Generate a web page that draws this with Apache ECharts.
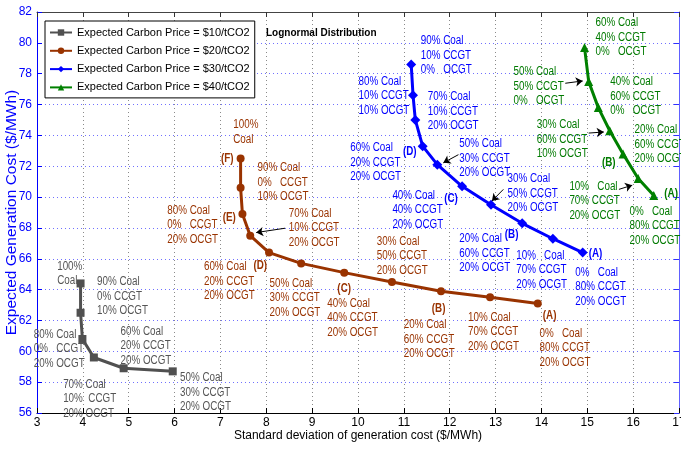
<!DOCTYPE html>
<html>
<head>
<meta charset="utf-8">
<script src="https://cdn.jsdelivr.net/npm/echarts@6/dist/echarts.min.js"></script>
<style>
html,body{margin:0;padding:0;background:#fff;}
#c{width:681px;height:449px;}
</style>
</head>
<body>
<div id="c"></div>
<script>
// ---------- data ----------
const seriesNames = [
  'Expected Carbon Price = $10/tCO2',
  'Expected Carbon Price = $20/tCO2',
  'Expected Carbon Price = $30/tCO2',
  'Expected Carbon Price = $40/tCO2'
];
const sd10 = [3.95, 3.95, 3.99, 4.24, 4.89, 5.96];
const cost10 = [64.4, 62.5, 60.8, 59.6, 58.9, 58.7];
const sd20 = [7.44, 7.44, 7.48, 7.65, 8.06, 8.76, 9.70, 10.74, 11.81, 12.88, 13.92];
const cost20 = [72.5, 70.6, 68.9, 67.5, 66.4, 65.7, 65.1, 64.5, 63.9, 63.5, 63.1];
const sd30 = [11.16, 11.2, 11.25, 11.41, 11.73, 12.27, 12.90, 13.58, 14.25, 14.90];
const cost30 = [78.6, 76.6, 75.0, 73.3, 72.1, 70.7, 69.5, 68.3, 67.3, 66.4];
const sd40 = [14.94, 15.03, 15.24, 15.49, 15.78, 16.11, 16.45];
const cost40 = [79.7, 77.5, 75.8, 74.3, 72.8, 71.2, 70.1];

// annotation texts
const text10 = ['100%\nCoal', '90% Coal\n0% CCGT\n10% OCGT', '80% Coal\n0%   CCGT\n20% OCGT',
  '70% Coal\n10%  CCGT\n20% OCGT', '60% Coal\n20% CCGT\n20% OCGT', '50% Coal\n30% CCGT\n20% OCGT'];
const text20 = ['100%\nCoal', '(F)', '90% Coal\n0%   CCGT\n10% OCGT', '80% Coal\n0%   CCGT\n20% OCGT', '(E)',
  '70% Coal\n10% CCGT\n20% OCGT', '60% Coal\n20% CCGT\n20% OCGT', '(D)', '50% Coal\n30% CCGT\n20% OCGT',
  '(C)', '40% Coal\n40% CCGT\n20% OCGT', '30% Coal\n50% CCGT\n20% OCGT', '(B)',
  '20% Coal\n60% CCGT\n20% OCGT', '10% Coal\n70% CCGT\n20% OCGT', '(A)', '0%   Coal\n80% CCGT\n20% OCGT'];
const text30 = ['90% Coal\n10% CCGT\n0%   OCGT', '80% Coal\n10% CCGT\n10% OCGT', '70% Coal\n10% CCGT\n20% OCGT',
  '60% Coal\n20% CCGT\n20% OCGT', '(D)', '50% Coal\n30% CCGT\n20% OCGT', '40% Coal\n40% CCGT\n20% OCGT', '(C)',
  '30% Coal\n50% CCGT\n20% OCGT', '20% Coal\n60% CCGT\n20% OCGT', '(B)', '10%   Coal\n70% CCGT\n20% OCGT',
  '(A)', '0%   Coal\n80% CCGT\n20% OCGT'];
const text40 = ['60% Coal\n40% CCGT\n0%   OCGT', '50% Coal\n50% CCGT\n0%   OCGT', '40% Coal\n60% CCGT\n0%   OCGT',
  '30% Coal\n60% CCGT\n10% OCGT', '20% Coal\n60% CCGT\n20% OCGT', '(B)', '10%   Coal\n70% CCGT\n20% OCGT',
  '(A)', '0%   Coal\n80% CCGT\n20% OCGT'];

// annotation anchors (top-left of text block, in data units)
const pos10 = [[3.44, 65.98], [4.31, 64.97], [2.93, 61.55], [3.57, 58.32], [4.82, 61.77], [6.12, 58.75]];
const pos20 = [[7.28, 75.14], [7.01, 72.99], [7.81, 72.35], [5.84, 69.61], [7.05, 69.12], [8.49, 69.4],
  [6.64, 65.94], [7.72, 66.05], [8.07, 64.88], [9.55, 64.5], [9.33, 63.57], [10.41, 67.61], [11.61, 63.25],
  [11.0, 62.17], [12.4, 62.67], [14.03, 62.77], [13.96, 61.64]];
const pos30 = [[11.37, 80.58], [10.01, 77.98], [11.52, 76.97], [9.83, 73.64], [10.98, 73.42], [12.21, 73.92],
  [10.75, 70.58], [11.88, 70.35], [13.26, 71.66], [12.21, 67.77], [13.2, 68.05], [13.45, 66.69], [15.03, 66.82],
  [14.74, 65.57]];
const pos40 = [[15.18, 81.77], [13.39, 78.58], [15.5, 77.94], [13.9, 75.14], [16.03, 74.82], [15.32, 72.71],
  [14.61, 71.16], [16.68, 70.67], [15.92, 69.55]];

// arrows [from, to]
const arrows = [
  [[8.41, 67.98], [7.78, 67.70]],
  [[12.19, 72.75], [11.86, 72.22]],
  [[13.17, 70.5], [12.92, 69.74]],
  [[14.52, 77.38], [14.90, 77.53]],
  [[15.03, 74.15], [15.36, 74.22]],
  [[15.69, 70.5], [15.98, 70.77]]
];

// ---------- styling ----------
const REG = "'Liberation Sans',Arial,Helvetica,sans-serif";
const colors = ['#505050', '#993300', '#0000ff', '#008000'];
const labelColors = ['#555555', '#993300', '#0000ff', '#007a00'];
const symbols = ['rect', 'circle', 'diamond', 'triangle'];
const symSizes = [8, 8, 10, 9];

function zip(a, b) { return a.map((v, i) => [v, b[i]]); }

const lineData = [zip(sd10, cost10), zip(sd20, cost20), zip(sd30, cost30), zip(sd40, cost40)];
const texts = [text10, text20, text30, text40];
const poses = [pos10, pos20, pos30, pos40];

const series = [];
lineData.forEach((d, i) => {
  series.push({
    name: seriesNames[i], type: 'line', data: d,
    symbol: symbols[i], symbolSize: symSizes[i], showSymbol: true,
    lineStyle: { color: colors[i], width: 3 },
    itemStyle: { color: colors[i] },
    z: 3
  });
});
texts.forEach((tx, i) => {
  series.push({
    type: 'custom', silent: true, clip: false, z: 5,
    data: poses[i],
    renderItem: function (params, api) {
      const p = api.coord([api.value(0), api.value(1)]);
      const t = tx[params.dataIndex];
      const bold = t.charAt(0) === '(';
      return {
        type: 'text', x: p[0], y: p[1], scaleX: 0.82, scaleY: 1,
        style: {
          text: t, x: 0, y: 0, align: 'left', verticalAlign: 'top',
          fill: labelColors[i], fontFamily: REG, fontSize: 12, lineHeight: 14.5,
          fontWeight: bold ? 'bold' : 'normal'
        }
      };
    }
  });
});
series.push({
  type: 'lines', coordinateSystem: 'cartesian2d', silent: true, z: 6,
  symbol: ['none', 'arrow'], symbolSize: 7,
  lineStyle: { color: '#000', width: 1, opacity: 1 },
  data: arrows.map(a => ({ coords: a }))
});

const chart = echarts.init(document.getElementById('c'), null, { renderer: 'canvas' });
chart.setOption({
  animation: false,
  backgroundColor: '#fff',
  title: {
    text: 'Lognormal Distribution', left: 266, top: 28, padding: 0,
    textStyle: { fontFamily: REG, fontSize: 10, fontWeight: 'bold', color: '#000' }
  },
  legend: {
    data: seriesNames, orient: 'vertical', left: 45, top: 21,
    backgroundColor: '#fff', borderColor: '#000', borderWidth: 1,
    padding: [6, 5, 5, 4], itemGap: 7.3, itemWidth: 22, itemHeight: 8,
    textStyle: { fontFamily: REG, fontSize: 11, color: '#000' }
  },
  grid: { left: 37, right: 2, top: 12, bottom: 36, containLabel: false, outerBoundsMode: 'none' },
  xAxis: [{
    type: 'value', min: 3, max: 17, interval: 1,
    name: 'Standard deviation of generation cost ($/MWh)', nameLocation: 'middle', nameGap: 17,
    nameMoveOverlap: false,
    nameTextStyle: { fontFamily: REG, fontSize: 12, color: '#000' },
    axisLine: { show: true, onZero: false, lineStyle: { color: '#000', width: 1 } },
    axisTick: { show: true, inside: true, length: 5, lineStyle: { color: '#000' } },
    axisLabel: { color: '#000', fontFamily: REG, fontSize: 12, margin: 4 },
    splitLine: { show: true, lineStyle: { color: '#8a8a8a', type: [1, 3], width: 1 } }
  }, {
    type: 'value', min: 3, max: 17, interval: 1, position: 'top',
    axisLine: { show: true, onZero: false, lineStyle: { color: '#444', width: 1 } },
    axisTick: { show: true, inside: true, length: 5, lineStyle: { color: '#333' } },
    axisLabel: { show: false }, splitLine: { show: false }
  }],
  yAxis: [{
    type: 'value', min: 56, max: 82, interval: 2,
    name: 'Expected Generation Cost ($/MWh)', nameLocation: 'middle', nameGap: 17, nameRotate: 90,
    nameMoveOverlap: false,
    nameTextStyle: { fontFamily: REG, fontSize: 15.5, color: '#0000ff' },
    axisLine: { show: true, onZero: false, lineStyle: { color: '#0000ff', width: 1 } },
    axisTick: { show: true, inside: true, length: 5, lineStyle: { color: '#0000ff' } },
    axisLabel: { color: '#0000ff', fontFamily: REG, fontSize: 12, margin: 5 },
    splitLine: { show: true, lineStyle: { color: '#7070ff', type: [1, 3], width: 1 } }
  }, {
    type: 'value', min: 56, max: 82, interval: 2, position: 'right',
    axisLine: { show: true, onZero: false, lineStyle: { color: '#6060ff', width: 1 } },
    axisTick: { show: true, inside: true, length: 5, lineStyle: { color: '#3030ff' } },
    axisLabel: { show: false }, splitLine: { show: false }
  }],
  series: series
});
</script>
</body>
</html>
